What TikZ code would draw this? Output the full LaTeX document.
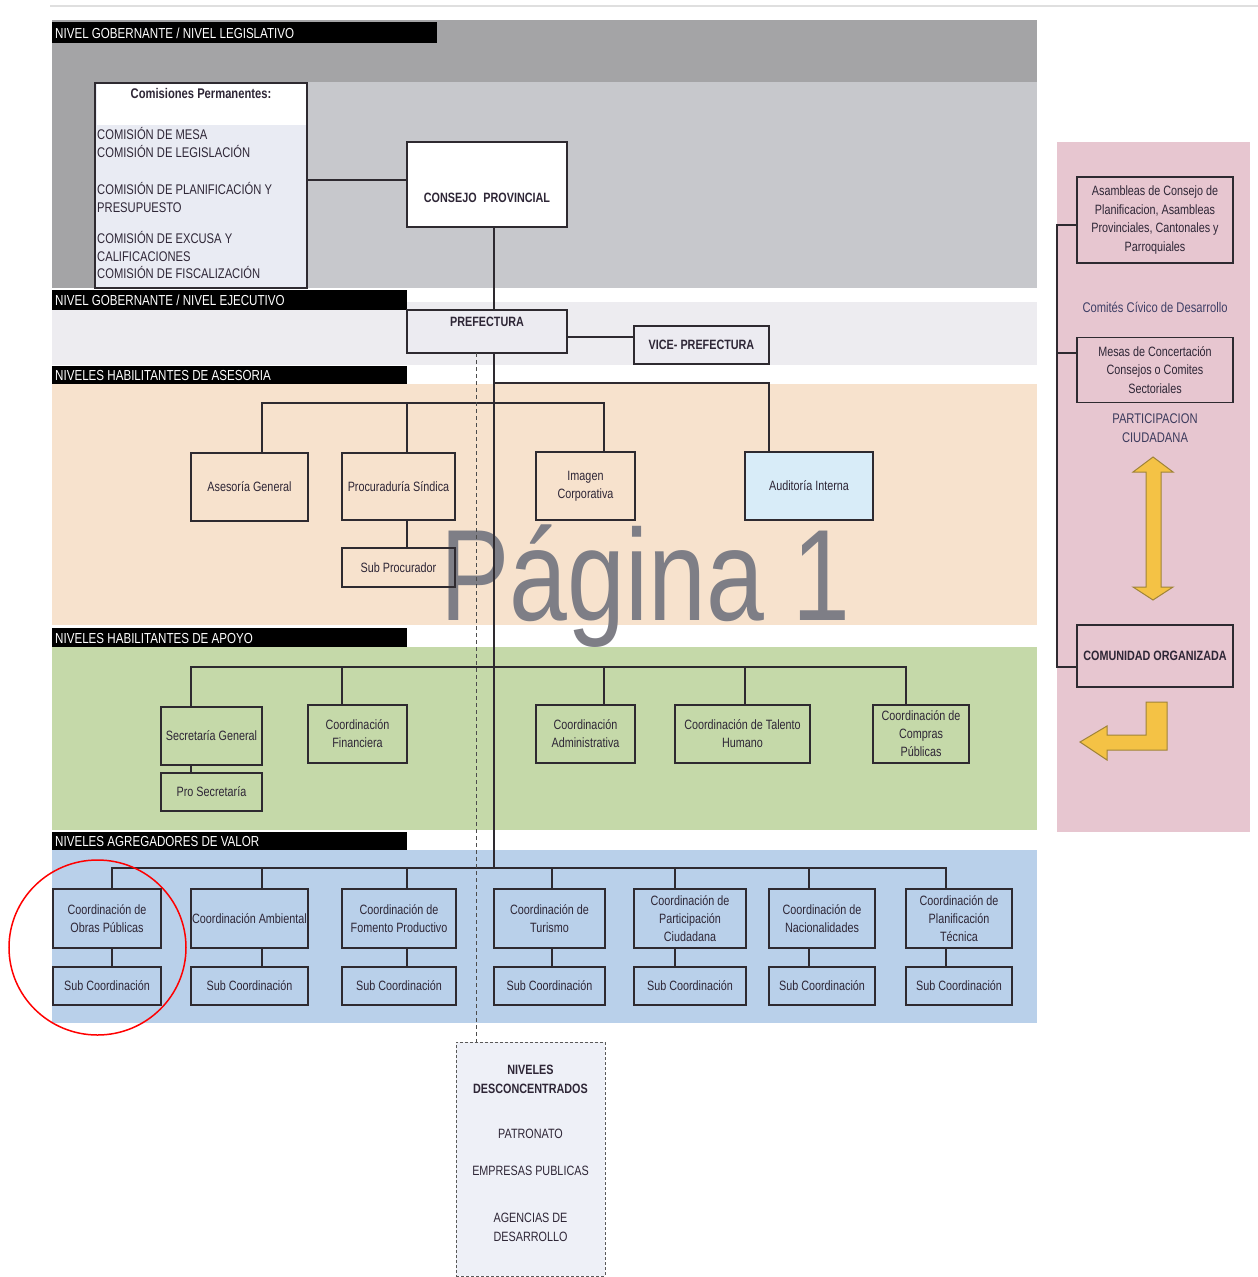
\documentclass[tikz,border=0pt]{standalone}
\usepackage{fontspec}
\setmainfont[FakeStretch=0.8]{Liberation Sans}
\definecolor{grayA}{HTML}{A4A4A6}
\definecolor{grayB}{HTML}{C7C8CC}
\definecolor{bandtwo}{HTML}{EDECF0}
\definecolor{peach}{HTML}{F7E2CD}
\definecolor{greenband}{HTML}{C5D9A9}
\definecolor{blueband}{HTML}{B9D0EA}
\definecolor{pinkband}{HTML}{E7C6D0}
\definecolor{linec}{HTML}{2E2A30}
\definecolor{txt}{HTML}{2E2636}
\definecolor{bluetxt}{HTML}{3F3F66}
\definecolor{arrowY}{HTML}{F4C245}
\definecolor{arrowE}{HTML}{A08438}
\definecolor{wmc}{HTML}{7E7E86}
\definecolor{comisfill}{HTML}{E9EBF3}
\definecolor{preffill}{HTML}{ECEBF1}
\definecolor{auditfill}{HTML}{D8ECF8}
\definecolor{descfill}{HTML}{EEF0F7}
\begin{document}
\begin{tikzpicture}[x=1pt,y=-1pt,
  box/.style={draw=linec,line width=1.5pt,inner sep=0pt,outer sep=0pt,align=center,text=txt,font=\fontsize{13.5}{18}\selectfont},
  hdrbar/.style={fill=black},
  hdrtext/.style={anchor=west,text=white,inner sep=0pt,font=\fontsize{14.5}{16}\selectfont},
  conn/.style={draw=linec,line width=1.3pt},
  btext/.style={inner sep=0pt,text=txt,font=\bfseries\fontsize{13.5}{18}\selectfont},
  yarrow/.style={fill=arrowY,draw=arrowE,line width=1pt,line join=miter}
]
\useasboundingbox (0,0) rectangle (1258,1277);
\fill[white] (0,0) rectangle (1258,1277);
\draw[gray!25,line width=2pt] (50,6) -- (1258,6);

% ---------- bands ----------
\fill[grayB] (52,20) rectangle (1037,288);
\fill[grayA] (52,20) rectangle (1037,82);
\fill[grayA] (52,82) rectangle (95,288);
\fill[bandtwo] (52,302) rectangle (1037,365);
\fill[peach] (52,384) rectangle (1037,625);
\fill[greenband] (52,647) rectangle (1037,830);
\fill[blueband] (52,850) rectangle (1037,1023);
\fill[pinkband] (1057,142) rectangle (1250,832);

% ---------- headers ----------
\fill[hdrbar] (52,22) rectangle (437,43);
\node[hdrtext] (h1) at (55,33) {NIVEL GOBERNANTE / NIVEL LEGISLATIVO};
\fill[hdrbar] (52,290) rectangle (407,310);
\node[hdrtext] (h2) at (55,300.5) {NIVEL GOBERNANTE / NIVEL EJECUTIVO};
\fill[hdrbar] (52,366) rectangle (407,384);
\node[hdrtext] (h3) at (55,375.5) {NIVELES HABILITANTES DE ASESORIA};
\fill[hdrbar] (52,628) rectangle (407,647);
\node[hdrtext] (h4) at (55,638) {NIVELES HABILITANTES DE APOYO};
\fill[hdrbar] (52,832) rectangle (407,850);
\node[hdrtext] (h5) at (55,841.5) {NIVELES AGREGADORES DE VALOR};

% ---------- watermark ----------
\node[anchor=base west,inner sep=0pt,text=wmc,font=\fontsize{130}{130}\selectfont] (wm) at (440,620) {Página 1};

% ---------- legislativo ----------
\node[box,fill=comisfill,minimum width=212pt,minimum height=205pt] (comis) at (201,185.5) {};
\fill[white] (96.5,84) rectangle (306,125);
\node[btext,font=\bfseries\fontsize{14}{18}\selectfont] (comisT) at (201,93) {Comisiones Permanentes:};
\node[anchor=north west,inner sep=0pt,align=left,text=txt,font=\fontsize{14}{18}\selectfont] (comisL) at (97,127)
 {COMISIÓN DE MESA\\COMISIÓN DE LEGISLACIÓN\\[19pt]COMISIÓN DE PLANIFICACIÓN Y\\PRESUPUESTO\\[13pt]COMISIÓN DE EXCUSA Y\\CALIFICACIONES\\[-1pt]COMISIÓN DE FISCALIZACIÓN};

\node[box,fill=white,minimum width=160pt,minimum height=85pt] (consejo) at (487,184.5) {};
\node[btext] (consejoT) at (487,198) {CONSEJO\enspace PROVINCIAL};

% ---------- ejecutivo ----------
\node[box,fill=preffill,minimum width=160pt,minimum height=43pt] (pref) at (487,331.5) {};
\node[btext] (prefT) at (487,322) {PREFECTURA};
\node[box,fill=preffill,minimum width=135pt,minimum height=38pt,font=\bfseries\fontsize{13.5}{18}\selectfont] (vice) at (701.5,345) {VICE- PREFECTURA};

% ---------- asesoria ----------
\node[box,minimum width=117pt,minimum height=68pt] (ag) at (249.5,487) {Asesoría General};
\node[box,minimum width=113pt,minimum height=67pt] (proc) at (398.5,486.5) {Procuraduría Síndica};
\node[box,minimum width=113pt,minimum height=39pt] (subp) at (398.5,567.5) {Sub Procurador};
\node[box,fill=peach,minimum width=99pt,minimum height=68pt] (imagen) at (585.5,486) {Imagen\\Corporativa};
\node[box,fill=auditfill,minimum width=128pt,minimum height=68pt] (audit) at (809,486) {Auditoría Interna};

% ---------- apoyo ----------
\node[box,minimum width=101pt,minimum height=58pt] (sec) at (211.5,736) {Secretaría General};
\node[box,minimum width=101pt,minimum height=38pt] (prosec) at (211.5,792) {Pro Secretaría};
\node[box,minimum width=99pt,minimum height=58pt] (fin) at (357.5,734) {Coordinación\\Financiera};
\node[box,minimum width=99pt,minimum height=58pt] (adm) at (585.5,734) {Coordinación\\Administrativa};
\node[box,minimum width=135pt,minimum height=58pt] (tal) at (742.5,734) {Coordinación de Talento\\Humano};
\node[box,minimum width=96pt,minimum height=58pt] (comp) at (921,734) {Coordinación de\\Compras\\Públicas};

% ---------- agregadores ----------
\node[box,minimum width=108pt,minimum height=59pt] (ob) at (107,918.5) {Coordinación de\\Obras Públicas};
\node[box,minimum width=117pt,minimum height=59pt] (amb) at (249.5,918.5) {Coordinación Ambiental};
\node[box,minimum width=114pt,minimum height=59pt] (fom) at (399,918.5) {Coordinación de\\Fomento Productivo};
\node[box,minimum width=111pt,minimum height=59pt] (tur) at (549.5,918.5) {Coordinación de\\Turismo};
\node[box,minimum width=112pt,minimum height=59pt] (par) at (690,918.5) {Coordinación de\\Participación\\Ciudadana};
\node[box,minimum width=106pt,minimum height=59pt] (nac) at (822,918.5) {Coordinación de\\Nacionalidades};
\node[box,minimum width=106pt,minimum height=59pt] (pla) at (959,918.5) {Coordinación de\\Planificación\\Técnica};
\node[box,minimum width=108pt,minimum height=38pt] (sob) at (107,986) {Sub Coordinación};
\node[box,minimum width=117pt,minimum height=38pt] (samb) at (249.5,986) {Sub Coordinación};
\node[box,minimum width=114pt,minimum height=38pt] (sfom) at (399,986) {Sub Coordinación};
\node[box,minimum width=111pt,minimum height=38pt] (stur) at (549.5,986) {Sub Coordinación};
\node[box,minimum width=112pt,minimum height=38pt] (spar) at (690,986) {Sub Coordinación};
\node[box,minimum width=106pt,minimum height=38pt] (snac) at (822,986) {Sub Coordinación};
\node[box,minimum width=106pt,minimum height=38pt] (spla) at (959,986) {Sub Coordinación};

% ---------- desconcentrados ----------
\node[draw=gray!70!black,densely dashed,line width=1pt,fill=descfill,minimum width=149pt,minimum height=234pt,inner sep=0pt] (desc) at (530.5,1159) {};
\node[anchor=north,inner sep=0pt,align=center,text=txt,font=\fontsize{13.5}{19}\selectfont] (descT) at (530.5,1064.5)
 {\textbf{NIVELES}\\\textbf{DESCONCENTRADOS}\\[26pt]PATRONATO\\[18pt]EMPRESAS PUBLICAS\\[28pt]AGENCIAS DE\\DESARROLLO};

% ---------- participacion ciudadana ----------
\node[box,minimum width=156pt,minimum height=86pt,font=\fontsize{13.5}{18.5}\selectfont] (asam) at (1155,220) {Asambleas de Consejo de\\Planificacion, Asambleas\\Provinciales, Cantonales y\\Parroquiales};
\node[inner sep=0pt,text=bluetxt,font=\fontsize{14}{18}\selectfont] (comites) at (1155,307) {Comités Cívico de Desarrollo};
\node[box,minimum width=156pt,minimum height=65pt,font=\fontsize{13.5}{18.5}\selectfont] (mesas) at (1155,370) {Mesas de Concertación\\Consejos o Comites\\Sectoriales};
\node[inner sep=0pt,align=center,text=bluetxt!80!txt,font=\fontsize{14}{19}\selectfont] (partic) at (1155,428) {PARTICIPACION\\CIUDADANA};
\node[box,minimum width=156pt,minimum height=62pt,font=\bfseries\fontsize{13.5}{18}\selectfont] (comu) at (1155,656) {COMUNIDAD ORGANIZADA};

\filldraw[yarrow] (1153,457) -- (1173,472) -- (1161,472) -- (1161,587) -- (1173,587) -- (1153,600) -- (1133,587) -- (1146,587) -- (1146,472) -- (1133,472) -- cycle;
\filldraw[yarrow] (1146,702) -- (1167,702) -- (1167,750) -- (1107,750) -- (1107,760) -- (1080,742) -- (1107,726) -- (1107,735) -- (1146,735) -- cycle;

\coordinate (rv) at (1057,225);
\draw[conn] (asam.west |- rv) -- (rv) -- (rv |- 0,667) -- (comu.west |- 0,667);
\draw[conn] (mesas.west |- 0,353) -- (rv |- 0,353);

% ---------- connectors ----------
\coordinate (mx) at (494,0);
\draw[conn] (comis.east |- 0,180) -- (consejo.west |- 0,180);
\draw[conn] (mx |- consejo.south) -- (mx |- pref.north);
\coordinate (bus5) at (494,868);
\draw[conn] (mx |- pref.south) -- (bus5);
\draw[conn] (pref.east |- 0,337) -- (vice.west |- 0,337);

% asesoria
\coordinate (a0) at (494,383);
\coordinate (a1) at (769,383);
\draw[conn] (a0) -- (a1) -- (a1 |- audit.north);
\coordinate (b3l) at (262,403);
\coordinate (b3m) at (407,403);
\coordinate (b3r) at (604,403);
\draw[conn] (b3l |- ag.north) -- (b3l) -- (b3r) -- (b3r |- imagen.north);
\draw[conn] (b3m) -- (b3m |- proc.north);
\draw[conn] (b3m |- proc.south) -- (b3m |- subp.north);

% apoyo
\coordinate (p1) at (191,667);
\coordinate (p2) at (342,667);
\coordinate (p3) at (604,667);
\coordinate (p4) at (745,667);
\coordinate (p5) at (906,667);
\draw[conn] (p1 |- sec.north) -- (p1) -- (p5) -- (p5 |- comp.north);
\draw[conn] (p2) -- (p2 |- fin.north);
\draw[conn] (p3) -- (p3 |- adm.north);
\draw[conn] (p4) -- (p4 |- tal.north);
\draw[conn] (p1 |- sec.south) -- (p1 |- prosec.north);

% agregadores
\coordinate (g1) at (112,868);
\coordinate (g2) at (262,868);
\coordinate (g3) at (407,868);
\coordinate (g4) at (552,868);
\coordinate (g5) at (675,868);
\coordinate (g6) at (809,868);
\coordinate (g7) at (946,868);
\draw[conn] (g1 |- ob.north) -- (g1) -- (g7) -- (g7 |- pla.north);
\draw[conn] (g2) -- (g2 |- amb.north);
\draw[conn] (g3) -- (g3 |- fom.north);
\draw[conn] (g4) -- (g4 |- tur.north);
\draw[conn] (g5) -- (g5 |- par.north);
\draw[conn] (g6) -- (g6 |- nac.north);
\draw[conn] (g1 |- ob.south) -- (g1 |- sob.north);
\draw[conn] (g2 |- amb.south) -- (g2 |- samb.north);
\draw[conn] (g3 |- fom.south) -- (g3 |- sfom.north);
\draw[conn] (g4 |- tur.south) -- (g4 |- stur.north);
\draw[conn] (g5 |- par.south) -- (g5 |- spar.north);
\draw[conn] (g6 |- nac.south) -- (g6 |- snac.north);
\draw[conn] (g7 |- pla.south) -- (g7 |- spla.north);

% dashed line to desconcentrados
\coordinate (dx) at (476,0);
\draw[draw=gray!60!black,line width=1pt,dash pattern=on 4pt off 3pt] (dx |- pref.south) -- (dx |- desc.north);

% red circle
\draw[red,line width=1.5pt] (97.5,947.5) ellipse [x radius=88.5pt, y radius=87.5pt];
\end{tikzpicture}
\end{document}
